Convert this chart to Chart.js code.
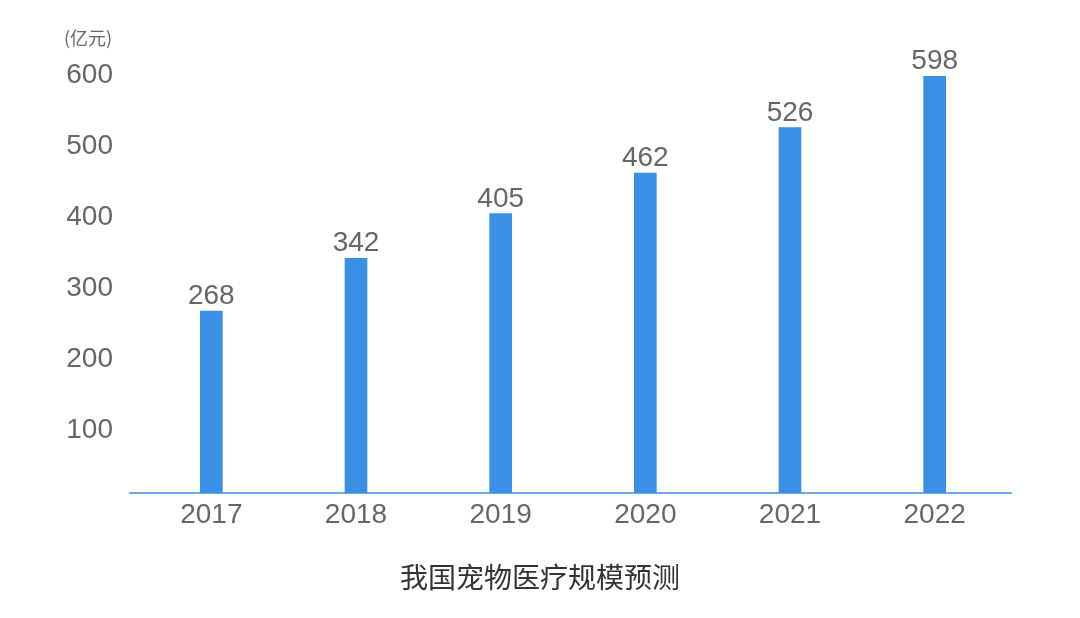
<!DOCTYPE html>
<html>
<head>
<meta charset="utf-8">
<script src="https://cdn.jsdelivr.net/npm/chart.js@4"></script>
<style>
  html, body { margin: 0; padding: 0; background: #fff; }
  canvas { display: block; }
</style>
</head>
<body>
<canvas id="myCanvas" width="1080" height="618"></canvas>
<script>
const years = ['2017', '2018', '2019', '2020', '2021', '2022'];
const marketSize = [268, 342, 405, 462, 526, 598];
const yTicks = [100, 200, 300, 400, 500, 600];
const unitText = '(亿元)';
const chartTitle = '我国宠物医疗规模预测';

const barColor = '#3a8fe6';
const textColor = '#666666';
const latinFont = '"Liberation Sans", "Noto Sans CJK SC", sans-serif';
const cjkFont = '"Noto Sans CJK SC", sans-serif';

const valueLabels = {
    id: 'valueLabels',
    afterDatasetsDraw(chart) {
        const ctx = chart.ctx;
        const meta = chart.getDatasetMeta(0);
        ctx.save();
        ctx.font = '28px ' + latinFont;
        ctx.fillStyle = textColor;
        ctx.textAlign = 'center';
        ctx.textBaseline = 'alphabetic';
        meta.data.forEach(function (bar, i) {
            ctx.fillText(String(marketSize[i]), bar.x, bar.y - 7);
        });
        ctx.restore();
    }
};

const axisExtras = {
    id: 'axisExtras',
    afterDraw(chart) {
        const ctx = chart.ctx;
        const area = chart.chartArea;
        ctx.save();
        // x axis line, a bit wider than the plot area
        ctx.strokeStyle = barColor;
        ctx.lineWidth = 1.5;
        ctx.beginPath();
        ctx.moveTo(area.left - 10, area.bottom);
        ctx.lineTo(area.right + 5, area.bottom);
        ctx.stroke();
        // unit text above the y labels
        ctx.font = '18px ' + cjkFont;
        ctx.fillStyle = textColor;
        ctx.textAlign = 'center';
        ctx.textBaseline = 'middle';
        ctx.fillText(unitText, 88, area.top - 37);
        // chart title, centred on the whole picture
        ctx.font = '28px ' + cjkFont;
        ctx.fillStyle = '#333333';
        ctx.fillText(chartTitle, chart.width / 2, 577);
        ctx.restore();
    }
};

new Chart(document.getElementById('myCanvas').getContext('2d'), {
    type: 'bar',
    data: {
        labels: years,
        datasets: [{
            label: chartTitle,
            data: marketSize,
            backgroundColor: barColor,
            barThickness: 22,
            borderWidth: 0
        }]
    },
    options: {
        responsive: false,
        animation: false,
        layout: { padding: { top: 75, right: 73, bottom: 0, left: 0 } },
        plugins: {
            legend: { display: false },
            tooltip: { enabled: false },
            title: { display: false }
        },
        scales: {
            x: {
                grid: { display: false, drawTicks: false },
                border: { display: false },
                ticks: {
                    color: textColor,
                    font: { family: latinFont, size: 28 },
                    padding: 5
                },
                afterFit(scale) { scale.height = 125; }
            },
            y: {
                min: 12,
                max: 600,
                grid: { display: false, drawTicks: false },
                border: { display: false },
                ticks: {
                    color: textColor,
                    font: { family: latinFont, size: 28 },
                    padding: 26
                },
                afterBuildTicks(scale) {
                    scale.ticks = yTicks.map(v => ({ value: v }));
                },
                afterFit(scale) { scale.width = 139; }
            }
        }
    },
    plugins: [valueLabels, axisExtras]
});
</script>
</body>
</html>
